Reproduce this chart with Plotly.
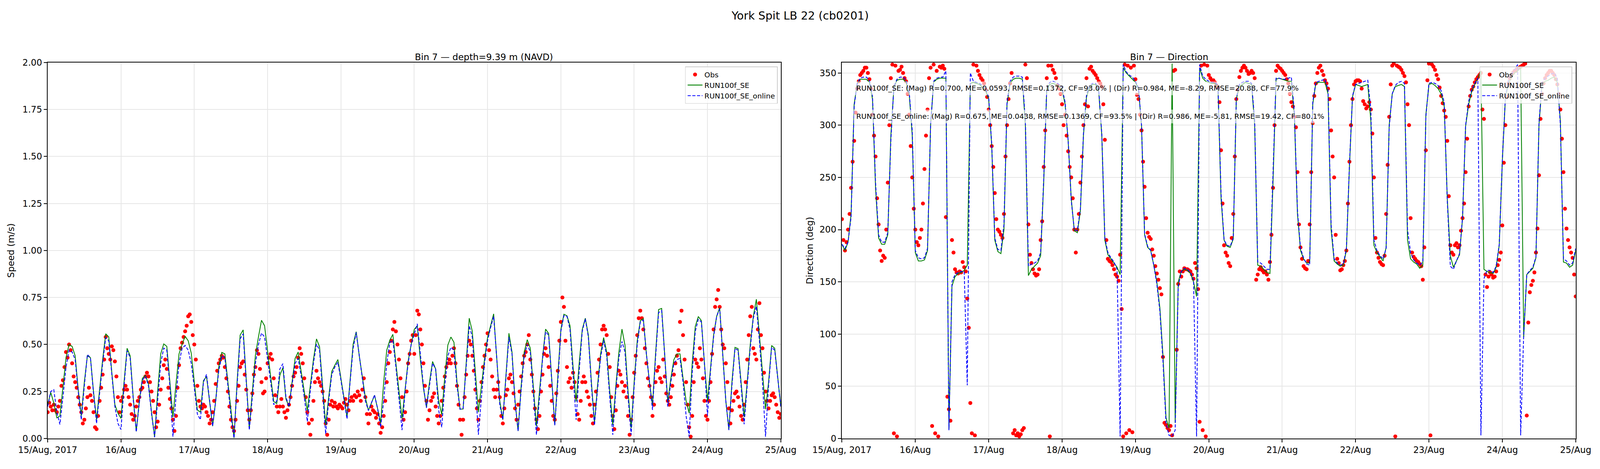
import plotly.graph_objects as go
import pandas as pd

# station / run labels
suptitle = "York Spit LB 22 (cb0201)"
title_mag = "Bin 7 \u2014 depth=9.39 m (NAVD)"
title_dir = "Bin 7 \u2014 Direction"
run_names = ["RUN100f_SE", "RUN100f_SE_online"]
stats_text = [
    "RUN100f_SE: (Mag) R=0.700, ME=0.0593, RMSE=0.1372, CF=93.0% | (Dir) R=0.984, ME=-8.29, RMSE=20.88, CF=77.9%",
    "RUN100f_SE_online: (Mag) R=0.675, ME=0.0438, RMSE=0.1369, CF=93.5% | (Dir) R=0.986, ME=-5.81, RMSE=19.42, CF=80.1%",
]
day_ticks = ["2017-08-%02d" % d for d in range(15, 26)]
day_labels = ["15/Aug, 2017"] + ["%d/Aug" % d for d in range(16, 26)]

# observed speed, every 30 min from 15 Aug 00:00 (m/s)
obs_speed = [
    0.14, 0.19, 0.17, 0.15, 0.18, 0.15, 0.14, 0.17, 0.20, 0.28, 0.31, 0.38, 0.46, 0.43, 0.50, 0.47, 0.40, 0.33, 0.30, 0.27, 0.22, 0.18, 0.14, 0.08,
    0.10, 0.16, 0.22, 0.27, 0.23, 0.20, 0.14, 0.06, 0.05, 0.12, 0.20, 0.27, 0.34, 0.42, 0.54, 0.48, 0.45, 0.42, 0.49, 0.47, 0.41, 0.33, 0.22, 0.14,
    0.20, 0.22, 0.26, 0.28, 0.26, 0.22, 0.18, 0.13, 0.10, 0.12, 0.17, 0.20, 0.22, 0.26, 0.27, 0.30, 0.33, 0.35, 0.33, 0.30, 0.25, 0.20, 0.14, 0.06,
    0.09, 0.18, 0.26, 0.32, 0.39, 0.42, 0.37, 0.27, 0.21, 0.16, 0.10, 0.04, 0.12, 0.27, 0.39, 0.48, 0.51, 0.54, 0.57, 0.60, 0.65, 0.66, 0.62, 0.55,
    0.50, 0.42, 0.28, 0.20, 0.17, 0.16, 0.18, 0.17, 0.14, 0.12, 0.08, 0.10, 0.14, 0.20, 0.29, 0.36, 0.40, 0.42, 0.44, 0.43, 0.38, 0.32, 0.25, 0.17,
    0.10, 0.06, 0.04, 0.10, 0.20, 0.28, 0.38, 0.40, 0.41, 0.34, 0.26, 0.15, 0.10, 0.15, 0.24, 0.34, 0.38, 0.47, 0.45, 0.37, 0.30, 0.24, 0.25, 0.32,
    0.40, 0.43, 0.45, 0.42, 0.32, 0.23, 0.17, 0.14, 0.17, 0.21, 0.17, 0.14, 0.11, 0.15, 0.18, 0.22, 0.28, 0.33, 0.35, 0.38, 0.43, 0.48, 0.45, 0.40,
    0.32, 0.22, 0.14, 0.08, 0.02, 0.10, 0.20, 0.30, 0.36, 0.32, 0.30, 0.28, 0.25, 0.20, 0.08, 0.02, 0.10, 0.18, 0.20, 0.17, 0.19, 0.17, 0.16, 0.18,
    0.17, 0.16, 0.19, 0.21, 0.18, 0.15, 0.20, 0.22, 0.20, 0.23, 0.22, 0.25, 0.23, 0.20, 0.26, 0.32, 0.22, 0.13, 0.08, 0.13, 0.17, 0.15, 0.14, 0.11,
    0.13, 0.08, 0.03, 0.06, 0.12, 0.20, 0.30, 0.40, 0.46, 0.52, 0.58, 0.62, 0.57, 0.50, 0.42, 0.32, 0.22, 0.10, 0.14, 0.25, 0.40, 0.45, 0.52, 0.55,
    0.45, 0.55, 0.68, 0.66, 0.58, 0.50, 0.40, 0.28, 0.20, 0.10, 0.15, 0.20, 0.22, 0.24, 0.17, 0.12, 0.08, 0.12, 0.20, 0.27, 0.33, 0.38, 0.40, 0.42,
    0.40, 0.44, 0.48, 0.40, 0.28, 0.18, 0.10, 0.02, 0.10, 0.22, 0.34, 0.44, 0.52, 0.50, 0.44, 0.36, 0.26, 0.16, 0.10, 0.20, 0.30, 0.38, 0.44, 0.50,
    0.56, 0.47, 0.42, 0.33, 0.26, 0.22, 0.26, 0.30, 0.22, 0.12, 0.08, 0.16, 0.23, 0.26, 0.32, 0.34, 0.30, 0.24, 0.16, 0.10, 0.18, 0.25, 0.33, 0.40,
    0.44, 0.46, 0.50, 0.55, 0.42, 0.34, 0.25, 0.16, 0.10, 0.05, 0.12, 0.25, 0.34, 0.45, 0.48, 0.44, 0.38, 0.28, 0.20, 0.12, 0.10, 0.24, 0.36, 0.52,
    0.62, 0.75, 0.70, 0.52, 0.38, 0.30, 0.32, 0.27, 0.35, 0.30, 0.22, 0.13, 0.10, 0.20, 0.30, 0.33, 0.30, 0.25, 0.22, 0.18, 0.12, 0.08, 0.18, 0.25,
    0.35, 0.42, 0.50, 0.58, 0.60, 0.58, 0.55, 0.45, 0.38, 0.22, 0.12, 0.05, 0.15, 0.28, 0.36, 0.34, 0.30, 0.25, 0.28, 0.22, 0.12, 0.02, 0.10, 0.22,
    0.35, 0.44, 0.55, 0.64, 0.68, 0.64, 0.58, 0.48, 0.40, 0.32, 0.28, 0.22, 0.12, 0.18, 0.30, 0.36, 0.38, 0.32, 0.30, 0.42, 0.33, 0.24, 0.20, 0.18,
    0.22, 0.28, 0.34, 0.40, 0.44, 0.47, 0.62, 0.68, 0.55, 0.42, 0.30, 0.18, 0.06, 0.01, 0.12, 0.30, 0.42, 0.40, 0.38, 0.48, 0.42, 0.32, 0.20, 0.12,
    0.10, 0.20, 0.30, 0.45, 0.58, 0.70, 0.74, 0.79, 0.70, 0.58, 0.50, 0.48, 0.40, 0.30, 0.16, 0.08, 0.15, 0.20, 0.24, 0.25, 0.22, 0.17, 0.12, 0.10,
    0.18, 0.30, 0.42, 0.55, 0.65, 0.70, 0.48, 0.45, 0.42, 0.58, 0.72, 0.55, 0.48, 0.35, 0.25, 0.20, 0.16, 0.20, 0.23, 0.24, 0.22, 0.18, 0.14, 0.11,
    0.13,
]

# observed direction, every 30 min (deg)
obs_dir = [
    210, 190, 180, 188, 200, 215, 240, 265, 285, 312, 335, 342, 348, 350, 352, 355, 355, 350, 344, 335, 310, 290, 270, 230,
    205, 180, 170, 175, 173, 200, 245, 300, 345, 358, 5, 357, 2, 352, 353, 356, 350, 345, 342, 330, 310, 280, 250, 220,
    200, 188, 185, 192, 200, 225, 258, 290, 315, 345, 355, 12, 358, 5, 352, 2, 356, 355, 357, 354, 212, 40, 28, 17,
    190, 178, 162, 159, 158, 160, 159, 169, 164, 160, 134, 106, 34, 5, 358, 3, 357, 352, 348, 345, 343, 340, 334, 327,
    315, 300, 280, 260, 235, 210, 200, 198, 195, 192, 215, 270, 300, 325, 340, 350, 5, 8, 3, 5, 2, 4, 8, 10,
    358, 345, 205, 176, 168, 162, 158, 156, 157, 162, 190, 208, 260, 295, 345, 357, 2, 357, 353, 350, 345, 338, 335, 330,
    320, 300, 310, 290, 275, 260, 250, 230, 200, 178, 200, 215, 245, 270, 300, 320, 345, 318, 354, 356, 352, 350, 348, 345,
    342, 340, 337, 320, 286, 190, 172, 170, 169, 166, 162, 157, 155, 151, 176, 124, 2, 358, 5, 357, 8, 355, 6, 357,
    344, 329, 325, 310, 295, 265, 241, 211, 197, 193, 191, 181, 175, 165, 158, 152, 144, 138, 78, 15, 13, 10, 8, 12,
    3, 352, 353, 85, 148, 160, 155, 160, 163, 162, 162, 161, 160, 157, 153, 168, 163, 143, 16, 357, 8, 358, 2, 357,
    348, 345, 343, 343, 341, 338, 336, 322, 276, 225, 185, 178, 175, 168, 165, 192, 215, 270, 325, 334, 346, 352, 355, 357,
    355, 352, 349, 350, 352, 350, 345, 152, 157, 162, 164, 161, 159, 160, 157, 152, 169, 195, 240, 300, 352, 357, 355, 354,
    352, 350, 348, 344, 340, 330, 322, 318, 308, 298, 255, 205, 183, 172, 165, 163, 162, 170, 205, 255, 302, 328, 340, 350,
    355, 357, 352, 348, 343, 340, 335, 325, 295, 270, 250, 195, 172, 168, 161, 162, 166, 170, 180, 225, 265, 300, 325, 339,
    342, 343, 343, 342, 335, 323, 320, 316, 318, 322, 315, 292, 250, 192, 178, 173, 169, 167, 166, 175, 215, 262, 308, 339,
    357, 359, 2, 357, 356, 355, 353, 350, 347, 341, 320, 300, 211, 178, 174, 172, 170, 169, 167, 165, 152, 183, 276, 343,
    359, 3, 358, 356, 353, 348, 344, 336, 328, 321, 314, 308, 285, 232, 185, 178, 176, 185, 187, 183, 185, 199, 211, 225,
    255, 287, 318, 328, 334, 337, 341, 344, 346, 348, 350, 315, 306, 157, 145, 155, 159, 157, 154, 155, 160, 166, 171, 178,
    204, 264, 300, 327, 340, 345, 348, 350, 352, 352, 354, 355, 356, 357, 358, 359, 22, 111, 140, 147, 151, 159, 178, 201,
    252, 306, 330, 340, 345, 348, 350, 352, 352, 350, 348, 344, 339, 330, 315, 287, 255, 220, 201, 190, 183, 178, 173, 157,
    136,
]

# model speed, hourly (m/s)
se_speed = [
    0.18, 0.245, 0.19, 0.11, 0.12, 0.27, 0.43, 0.50, 0.49, 0.44, 0.26, 0.12, 0.30, 0.44, 0.43, 0.25, 0.10, 0.26, 0.42, 0.557, 0.54, 0.35, 0.18, 0.135,
    0.107, 0.30, 0.48, 0.44, 0.22, 0.038, 0.20, 0.32, 0.336, 0.29, 0.14, 0.007, 0.25, 0.45, 0.503, 0.49, 0.30, 0.114, 0.29, 0.45, 0.50, 0.544, 0.52, 0.454,
    0.30, 0.152, 0.14, 0.308, 0.33, 0.20, 0.066, 0.20, 0.38, 0.458, 0.45, 0.30, 0.15, 0.003, 0.30, 0.55, 0.578, 0.32, 0.052, 0.25, 0.443, 0.54, 0.629, 0.60,
    0.46, 0.33, 0.197, 0.185, 0.336, 0.377, 0.21, 0.17, 0.30, 0.426, 0.46, 0.35, 0.25, 0.149, 0.28, 0.42, 0.53, 0.488, 0.28, 0.073, 0.22, 0.357, 0.39, 0.42,
    0.32, 0.22, 0.114, 0.31, 0.502, 0.568, 0.44, 0.33, 0.218, 0.149, 0.19, 0.23, 0.16, 0.083, 0.30, 0.47, 0.523, 0.554, 0.40, 0.25, 0.107, 0.26, 0.412, 0.50,
    0.58, 0.60, 0.42, 0.27, 0.166, 0.30, 0.41, 0.37, 0.20, 0.128, 0.33, 0.497, 0.54, 0.512, 0.30, 0.156, 0.157, 0.40, 0.64, 0.571, 0.35, 0.14, 0.28, 0.42,
    0.537, 0.60, 0.663, 0.43, 0.20, 0.10, 0.33, 0.56, 0.46, 0.20, 0.04, 0.28, 0.46, 0.526, 0.48, 0.28, 0.066, 0.25, 0.43, 0.582, 0.559, 0.32, 0.073, 0.33,
    0.58, 0.661, 0.653, 0.60, 0.38, 0.197, 0.40, 0.58, 0.64, 0.55, 0.30, 0.083, 0.28, 0.45, 0.537, 0.46, 0.25, 0.073, 0.28, 0.46, 0.582, 0.495, 0.25, 0.055,
    0.30, 0.52, 0.627, 0.637, 0.45, 0.30, 0.177, 0.45, 0.686, 0.692, 0.45, 0.194, 0.32, 0.42, 0.45, 0.45, 0.32, 0.20, 0.135, 0.40, 0.596, 0.649, 0.627, 0.40,
    0.20, 0.38, 0.55, 0.65, 0.696, 0.45, 0.20, 0.048, 0.30, 0.485, 0.478, 0.30, 0.114, 0.30, 0.50, 0.65, 0.741, 0.55, 0.35, 0.156, 0.30, 0.495, 0.48, 0.33,
    0.17,
]
online_speed = [
    0.17, 0.25, 0.26, 0.14, 0.075, 0.22, 0.38, 0.47, 0.46, 0.42, 0.25, 0.10, 0.28, 0.447, 0.43, 0.24, 0.08, 0.24, 0.40, 0.537, 0.52, 0.34, 0.17, 0.08,
    0.048, 0.28, 0.467, 0.43, 0.21, 0.035, 0.19, 0.31, 0.332, 0.28, 0.13, 0.007, 0.20, 0.40, 0.481, 0.47, 0.28, 0.01, 0.22, 0.40, 0.48, 0.495, 0.47, 0.40,
    0.27, 0.13, 0.10, 0.30, 0.341, 0.20, 0.066, 0.20, 0.36, 0.44, 0.43, 0.28, 0.12, 0.003, 0.28, 0.53, 0.557, 0.30, 0.045, 0.22, 0.40, 0.50, 0.561, 0.54,
    0.42, 0.30, 0.18, 0.20, 0.37, 0.398, 0.22, 0.17, 0.28, 0.40, 0.426, 0.33, 0.22, 0.09, 0.26, 0.40, 0.502, 0.47, 0.25, 0.024, 0.20, 0.34, 0.38, 0.406,
    0.31, 0.21, 0.104, 0.30, 0.48, 0.564, 0.44, 0.32, 0.20, 0.149, 0.19, 0.232, 0.16, 0.06, 0.20, 0.40, 0.51, 0.523, 0.38, 0.22, 0.045, 0.25, 0.40, 0.50,
    0.554, 0.61, 0.45, 0.28, 0.163, 0.28, 0.40, 0.37, 0.15, 0.06, 0.28, 0.44, 0.485, 0.47, 0.28, 0.155, 0.16, 0.38, 0.60, 0.54, 0.30, 0.02, 0.22, 0.40,
    0.52, 0.59, 0.65, 0.43, 0.18, 0.10, 0.31, 0.54, 0.45, 0.19, 0.04, 0.26, 0.44, 0.50, 0.46, 0.25, 0.02, 0.22, 0.42, 0.568, 0.55, 0.31, 0.07, 0.30,
    0.57, 0.654, 0.65, 0.58, 0.35, 0.10, 0.36, 0.57, 0.637, 0.54, 0.28, 0.07, 0.26, 0.43, 0.523, 0.44, 0.22, 0.02, 0.26, 0.43, 0.516, 0.46, 0.22, 0.02,
    0.28, 0.50, 0.62, 0.63, 0.45, 0.30, 0.152, 0.43, 0.67, 0.68, 0.44, 0.17, 0.30, 0.40, 0.42, 0.426, 0.30, 0.12, 0.01, 0.35, 0.57, 0.634, 0.62, 0.40,
    0.121, 0.36, 0.54, 0.65, 0.69, 0.44, 0.20, 0.045, 0.28, 0.478, 0.47, 0.28, 0.076, 0.28, 0.48, 0.64, 0.703, 0.52, 0.30, 0.01, 0.28, 0.485, 0.47, 0.32,
    0.17,
]

# model direction, hourly (deg)
se_dir = [
    186, 180, 188, 215, 320, 340, 344, 344, 344, 341, 325, 240, 192, 186, 186, 195, 290, 336, 343, 344, 344, 341, 330, 290,
    178, 170, 170, 171, 180, 300, 341, 344, 345, 345, 345, 9, 146, 155, 158, 159, 161, 166, 340, 341, 340, 339, 336, 333,
    325, 280, 190, 179, 177, 200, 320, 340, 344, 345, 345, 344, 300, 156, 162, 165, 168, 175, 245, 335, 339, 340, 339, 337,
    334, 320, 285, 230, 199, 197, 218, 290, 327, 336, 339, 339, 332, 290, 190, 176, 172, 168, 164, 157, 355, 350, 347, 344,
    341, 335, 299, 195, 183, 180, 166, 150, 125, 80, 20, 10, 359, 15, 150, 160, 162, 161, 158, 150, 136, 355, 345, 342,
    341, 340, 340, 336, 230, 190, 184, 183, 191, 325, 337, 339, 341, 340, 339, 300, 166, 165, 162, 159, 158, 245, 344, 345,
    344, 343, 342, 342, 308, 215, 180, 172, 168, 168, 320, 340, 341, 341, 341, 330, 200, 170, 167, 165, 166, 180, 260, 327,
    339, 338, 337, 338, 339, 304, 185, 178, 174, 170, 183, 300, 330, 337, 338, 339, 337, 190, 172, 169, 167, 163, 166, 310,
    339, 340, 338, 335, 330, 318, 230, 175, 164, 170, 176, 211, 299, 320, 332, 339, 345, 352, 162, 160, 159, 158, 164, 185,
    265, 325, 340, 346, 350, 352, 355, 97, 157, 160, 163, 173, 300, 339, 342, 343, 345, 346, 341, 304, 169, 168, 164, 166,
    180,
]
online_dir = [
    186, 182, 188, 212, 318, 340, 345, 346, 346, 343, 328, 245, 195, 188, 188, 197, 285, 337, 344, 346, 346, 343, 332, 295,
    180, 173, 172, 173, 182, 300, 342, 345, 346, 346, 352, 8, 150, 157, 159, 160, 160, 51, 350, 342, 341, 340, 338, 335,
    327, 282, 192, 181, 180, 205, 322, 342, 346, 347, 347, 346, 305, 165, 167, 168, 170, 178, 248, 336, 341, 342, 341, 339,
    336, 322, 285, 228, 200, 199, 220, 292, 329, 338, 340, 340, 334, 292, 192, 178, 173, 169, 162, 2, 358, 351, 348, 346,
    342, 336, 300, 196, 184, 180, 166, 148, 122, 75, 15, 3, 2, 8, 145, 160, 163, 162, 159, 152, 2, 358, 347, 344,
    342, 341, 341, 338, 235, 190, 185, 184, 192, 326, 339, 341, 342, 342, 340, 305, 169, 168, 165, 162, 162, 250, 345, 345,
    344, 344, 345, 346, 312, 218, 182, 173, 167, 166, 322, 341, 342, 343, 344, 334, 205, 172, 168, 166, 167, 182, 262, 328,
    339, 340, 341, 342, 343, 315, 190, 180, 175, 172, 182, 298, 330, 338, 341, 342, 340, 200, 178, 171, 168, 166, 169, 308,
    340, 341, 340, 338, 333, 322, 228, 165, 162, 170, 177, 212, 300, 323, 334, 340, 345, 3, 153, 161, 161, 159, 165, 186,
    266, 327, 343, 349, 353, 358, 3, 100, 157, 161, 164, 174, 302, 341, 345, 347, 349, 350, 345, 300, 172, 170, 166, 168,
    182,
]

t_obs = pd.date_range("2017-08-15", periods=len(obs_speed), freq="30min")
t_mod = pd.date_range("2017-08-15", periods=len(se_speed), freq="h")

FONT = "DejaVu Sans"
fig = go.Figure()

panels = [
    ("x", "y", "legend", obs_speed, se_speed, online_speed),
    ("x2", "y2", "legend2", obs_dir, se_dir, online_dir),
]
for xa, ya, leg, obs, se, onl in panels:
    fig.add_trace(go.Scatter(x=t_obs, y=obs, mode="markers", name="Obs",
                             marker=dict(color="red", size=10),
                             xaxis=xa, yaxis=ya, legend=leg))
    fig.add_trace(go.Scatter(x=t_mod, y=se, mode="lines", name=run_names[0],
                             line=dict(color="green", width=2.1),
                             xaxis=xa, yaxis=ya, legend=leg))
    fig.add_trace(go.Scatter(x=t_mod, y=onl, mode="lines", name=run_names[1],
                             line=dict(color="blue", width=2.1, dash="8px,4px"),
                             xaxis=xa, yaxis=ya, legend=leg))

axis_common = dict(
    showline=True, mirror=True, linecolor="black", linewidth=1.7,
    ticks="outside", ticklen=8, tickwidth=1.7, tickcolor="black",
    showgrid=True, gridcolor="#e6e6e6", gridwidth=1.6, zeroline=False,
    automargin=False,
    tickfont=dict(family=FONT, size=22.5, color="black"),
)
xcommon = dict(axis_common, type="date", range=["2017-08-15", "2017-08-25"],
               tickvals=day_ticks, ticktext=day_labels)
legend_common = dict(xanchor="right", y=0.858, yanchor="top",
                     bgcolor="rgba(255,255,255,0.8)", bordercolor="#cccccc", borderwidth=1.7,
                     font=dict(family=FONT, size=18.5), itemwidth=38)

fig.update_layout(
    autosize=True,
    margin=dict(l=0, r=0, t=0, b=0, pad=0),
    paper_bgcolor="white", plot_bgcolor="white",
    font=dict(family=FONT, color="black"),
    xaxis=dict(xcommon, domain=[0.0298, 0.488], anchor="y"),
    yaxis=dict(axis_common, domain=[0.065, 0.8667], anchor="x",
               range=[0, 2], dtick=0.25, tickformat=".2f",
               title=dict(text="Speed (m/s)", font=dict(family=FONT, size=23), standoff=15)),
    xaxis2=dict(xcommon, domain=[0.5262, 0.9848], anchor="y2"),
    yaxis2=dict(axis_common, domain=[0.065, 0.8667], anchor="x2",
                range=[0, 360], dtick=50,
                title=dict(text="Direction (deg)", font=dict(family=FONT, size=23), standoff=10)),
    legend=dict(legend_common, x=0.486),
    legend2=dict(legend_common, x=0.9826),
    showlegend=True,
)

# titles
fig.add_annotation(text=suptitle, x=0.5, y=0.982, xref="paper", yref="paper",
                   showarrow=False, font=dict(family=FONT, size=28.5))
fig.add_annotation(text=title_mag, x=0.2589, y=0.891, xref="paper", yref="paper",
                   showarrow=False, font=dict(family=FONT, size=23))
fig.add_annotation(text=title_dir, x=0.7555, y=0.891, xref="paper", yref="paper",
                   showarrow=False, font=dict(family=FONT, size=23))

# skill scores boxes
for txt, yy in zip(stats_text, [0.95, 0.875]):
    fig.add_annotation(text=txt, x=0.0157, y=yy, xref="x2 domain", yref="y2 domain",
                       xanchor="left", yanchor="top", showarrow=False, align="left",
                       bgcolor="rgba(255,255,255,0.6)", borderpad=6,
                       font=dict(family=FONT, size=18.5, color="black"))

fig.write_html(
    "out.html",
    config={"responsive": True, "displayModeBar": False},
    default_width="100vw",
    default_height="100vh",
    post_script="document.body.style.margin='0';document.body.style.overflow='hidden';",
)
